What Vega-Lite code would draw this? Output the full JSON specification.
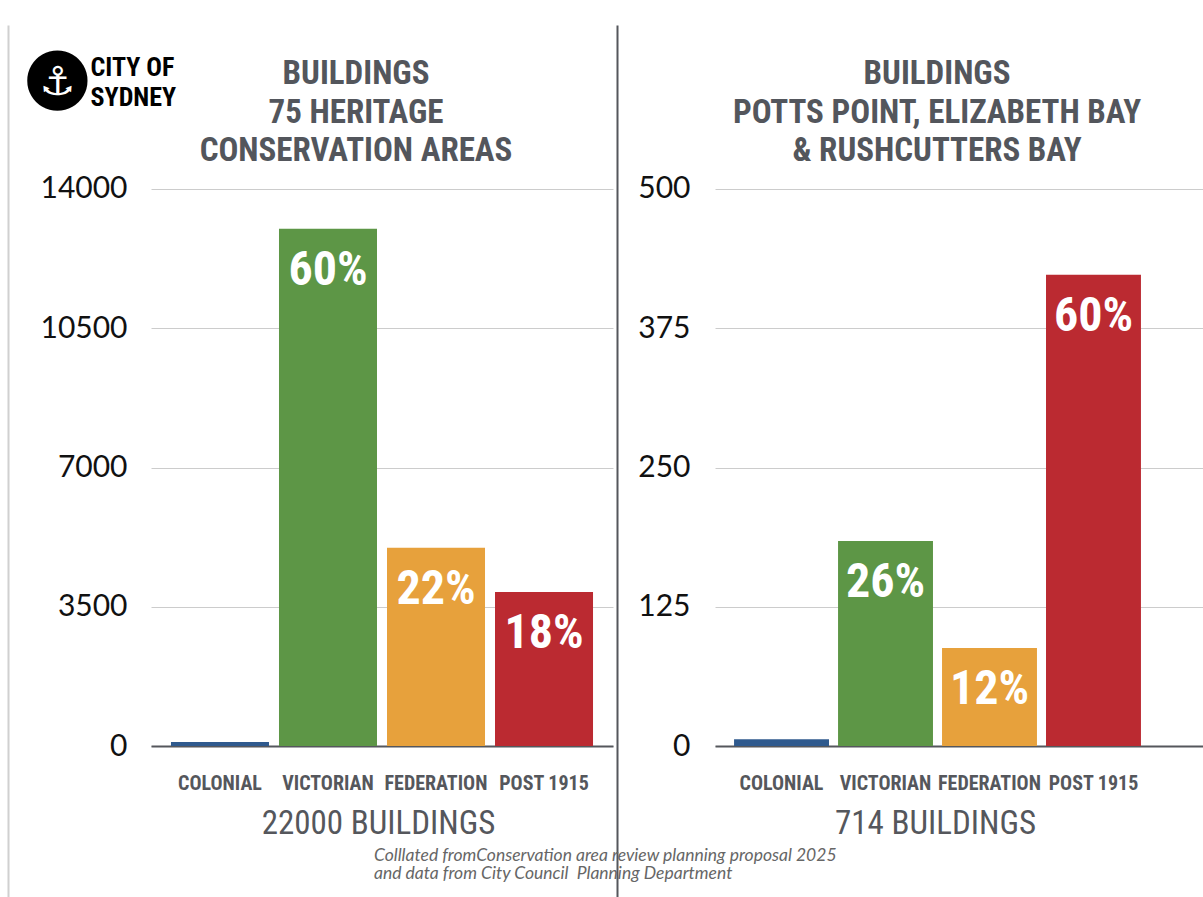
{
  "$schema": "https://vega.github.io/schema/vega-lite/v6.json",
  "autosize": {"type": "none"},
  "padding": {"left": 151, "top": 25, "right": 1052, "bottom": 872},
  "background": "white",
  "bounds": "flush",
  "spacing": 102,
  "datasets": {
    "heritage": [
      {"era": "COLONIAL", "buildings": 100, "share": ""},
      {"era": "VICTORIAN", "buildings": 13000, "share": "60%"},
      {"era": "FEDERATION", "buildings": 4980, "share": "22%"},
      {"era": "POST 1915", "buildings": 3870, "share": "18%"}
    ],
    "potts": [
      {"era": "COLONIAL", "buildings": 6, "share": ""},
      {"era": "VICTORIAN", "buildings": 184, "share": "26%"},
      {"era": "FEDERATION", "buildings": 88, "share": "12%"},
      {"era": "POST 1915", "buildings": 423, "share": "60%"}
    ]
  },
  "title": {
    "text": ["Colllated fromConservation area review planning proposal 2025", "and data from City Council\u00a0 Planning Department"],
    "orient": "bottom",
    "anchor": "start",
    "frame": "bounds",
    "font": "Lato",
    "fontStyle": "italic",
    "fontWeight": "normal",
    "fontSize": 17.5,
    "color": "#666666",
    "lineHeight": 18,
    "dx": 366,
    "dy": -54
  },
  "config": {
    "view": {"stroke": null},
    "axis": {"labelOverlap": false, "labelFlush": false}
  },
  "hconcat": [
    {
      "width": 462,
      "height": 872,
      "data": {"name": "heritage"},
      "title": {
        "text": ["BUILDINGS", "75 HERITAGE", "CONSERVATION AREAS"],
        "anchor": "middle",
        "frame": "group",
        "font": "Roboto Condensed, Liberation Sans Narrow, DejaVu Sans Condensed, Roboto",
        "fontWeight": "bold",
        "fontSize": 33,
        "color": "#53565c",
        "lineHeight": 38.5,
        "baseline": "alphabetic",
        "offset": -169,
        "dx": -26
      },
      "encoding": {
        "x": {
          "field": "era",
          "type": "nominal",
          "sort": ["COLONIAL", "VICTORIAN", "FEDERATION", "POST 1915"],
          "scale": {"paddingInner": 0.0926, "paddingOuter": 0.185},
          "axis": {
            "title": "22000 BUILDINGS",
            "orient": "bottom",
            "offset": -151,
            "domainColor": "#55575c",
            "domainWidth": 2,
            "ticks": false,
            "labelAngle": 0,
            "labelPadding": 27,
            "labelFont": "Roboto Condensed, Liberation Sans Narrow, DejaVu Sans Condensed, Roboto",
            "labelFontWeight": "bold",
            "labelFontSize": 20,
            "labelColor": "#55575c",
            "titleFont": "Roboto Condensed, Liberation Sans Narrow, DejaVu Sans Condensed, Roboto",
            "titleFontWeight": "normal",
            "titleFontSize": 33,
            "titleColor": "#55575c",
            "titleX": 227,
            "titleY": 87,
            "titleBaseline": "alphabetic",
            "titleAlign": "center"
          }
        }
      },
      "layer": [
        {
          "mark": {"type": "bar"},
          "encoding": {
            "y": {
              "field": "buildings",
              "type": "quantitative",
              "scale": {"domain": [-3795, 18122], "nice": false, "zero": false},
              "axis": {
                "values": [0, 3500, 7000, 10500, 14000],
                "format": "d",
                "offset": 143,
                "domain": true,
                "domainColor": "#d0d0d0",
                "domainWidth": 2,
                "ticks": false,
                "labelPadding": -119,
                "labelFont": "Lato",
                "labelFontSize": 30,
                "labelColor": "#111111",
                "labelBaseline": "middle",
                "grid": true,
                "gridColor": "#cccccc",
                "title": ["CITY OF", "SYDNEY"],
                "titleAngle": 0,
                "titleAlign": "left",
                "titleBaseline": "alphabetic",
                "titleX": 82,
                "titleY": 50,
                "titleFont": "Roboto Condensed, Liberation Sans Narrow, DejaVu Sans Condensed, Roboto",
                "titleFontWeight": "bold",
                "titleFontSize": 26,
                "titleColor": "#000000",
                "titleLineHeight": 30
              }
            },
            "y2": {"datum": 0},
            "color": {
              "field": "era",
              "type": "nominal",
              "scale": {"domain": ["COLONIAL", "VICTORIAN", "FEDERATION", "POST 1915"], "range": ["#2f5a8e", "#5d9646", "#e7a13c", "#bb2a31"]},
              "legend": null
            }
          }
        },
        {
          "mark": {"type": "text", "baseline": "top", "dy": 18, "font": "Roboto Condensed, Liberation Sans Narrow, DejaVu Sans Condensed, Roboto", "fontWeight": "bold", "fontSize": 48, "color": "white"},
          "encoding": {
            "y": {
              "field": "buildings",
              "type": "quantitative",
              "axis": {
                "orient": "right",
                "domain": false,
                "ticks": false,
                "labels": false,
                "grid": false,
                "title": "●",
                "titleAngle": 0,
                "titleAlign": "center",
                "titleBaseline": "middle",
                "titleX": -556,
                "titleY": 51,
                "titleFont": "DejaVu Sans",
                "titleFontWeight": "normal",
                "titleFontSize": 79,
                "titleColor": "#000000"
              }
            },
            "text": {"field": "share"}
          }
        }
      ],
      "resolve": {"axis": {"y": "independent"}}
    },
    {
      "width": 488,
      "height": 872,
      "data": {"name": "potts"},
      "title": {
        "text": ["BUILDINGS", "POTTS POINT, ELIZABETH BAY", "& RUSHCUTTERS BAY"],
        "anchor": "middle",
        "frame": "group",
        "font": "Roboto Condensed, Liberation Sans Narrow, DejaVu Sans Condensed, Roboto",
        "fontWeight": "bold",
        "fontSize": 33,
        "color": "#53565c",
        "lineHeight": 38.5,
        "baseline": "alphabetic",
        "offset": -169,
        "dx": -22
      },
      "encoding": {
        "x": {
          "field": "era",
          "type": "nominal",
          "sort": ["COLONIAL", "VICTORIAN", "FEDERATION", "POST 1915"],
          "scale": {"paddingInner": 0.087, "paddingOuter": 0.39, "align": 0.235},
          "axis": {
            "title": "714 BUILDINGS",
            "orient": "bottom",
            "offset": -151,
            "domainColor": "#55575c",
            "domainWidth": 2,
            "ticks": false,
            "labelAngle": 0,
            "labelPadding": 27,
            "labelFont": "Roboto Condensed, Liberation Sans Narrow, DejaVu Sans Condensed, Roboto",
            "labelFontWeight": "bold",
            "labelFontSize": 20,
            "labelColor": "#55575c",
            "titleFont": "Roboto Condensed, Liberation Sans Narrow, DejaVu Sans Condensed, Roboto",
            "titleFontWeight": "normal",
            "titleFontSize": 33,
            "titleColor": "#55575c",
            "titleX": 220,
            "titleY": 87,
            "titleBaseline": "alphabetic",
            "titleAlign": "center"
          }
        }
      },
      "layer": [
        {
          "mark": {"type": "bar"},
          "encoding": {
            "y": {
              "field": "buildings",
              "type": "quantitative",
              "scale": {"domain": [-135.5, 647.2], "nice": false, "zero": false},
              "axis": {
                "values": [0, 125, 250, 375, 500],
                "format": "d",
                "offset": 98,
                "domain": true,
                "domainColor": "#55575c",
                "domainWidth": 2,
                "ticks": false,
                "labelPadding": -73,
                "labelFont": "Lato",
                "labelFontSize": 30,
                "labelColor": "#111111",
                "labelBaseline": "middle",
                "grid": true,
                "gridColor": "#cccccc",
                "title": "⚓",
                "titleAngle": 0,
                "titleAlign": "center",
                "titleBaseline": "middle",
                "titleX": -560,
                "titleY": 57,
                "titleFont": "DejaVu Sans",
                "titleFontWeight": "normal",
                "titleFontSize": 40,
                "titleColor": "#ffffff"
              }
            },
            "y2": {"datum": 0},
            "color": {
              "field": "era",
              "type": "nominal",
              "scale": {"domain": ["COLONIAL", "VICTORIAN", "FEDERATION", "POST 1915"], "range": ["#2f5a8e", "#5d9646", "#e7a13c", "#bb2a31"]},
              "legend": null
            }
          }
        },
        {
          "mark": {"type": "text", "baseline": "top", "dy": 18, "font": "Roboto Condensed, Liberation Sans Narrow, DejaVu Sans Condensed, Roboto", "fontWeight": "bold", "fontSize": 48, "color": "white"},
          "encoding": {
            "y": {"field": "buildings", "type": "quantitative"},
            "text": {"field": "share"}
          }
        }
      ]
    }
  ],
  "resolve": {"scale": {"y": "independent", "x": "independent", "color": "shared"}}
}
